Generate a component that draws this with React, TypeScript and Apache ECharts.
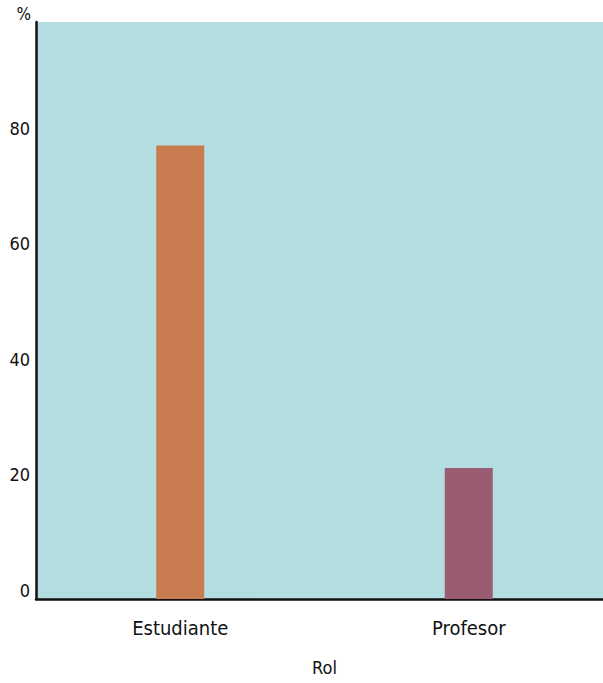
import React, { useEffect, useRef } from "react";
import * as echarts from "echarts";

const categories = ["Estudiante", "Profesor"];
const values = [78.6, 22.7];
const barColors = ["#c97c50", "#9a5c73"];

const FONT = "'DejaVu Sans Condensed', 'Liberation Sans Narrow', sans-serif";

export default function App() {
  const ref = useRef<HTMLDivElement>(null);
  useEffect(() => {
    if (!ref.current) return;
    const chart = echarts.init(ref.current, undefined, { renderer: "svg" });
    chart.setOption({
      animation: false,
      backgroundColor: "#ffffff",
      textStyle: { fontFamily: FONT },
      grid: {
        left: 36,
        top: 22,
        width: 577,
        height: 577,
        show: true,
        backgroundColor: "#b3dde0",
        borderWidth: 0,
        containLabel: false,
        outerBoundsMode: "none",
      },
      xAxis: {
        type: "category",
        data: categories,
        name: "Rol",
        nameLocation: "middle",
        nameGap: 59,
        nameTextStyle: { fontFamily: FONT, fontSize: 18, color: "#111" },
        axisLine: { show: true, lineStyle: { color: "#111", width: 2.5 } },
        axisTick: { show: false },
        axisLabel: { fontFamily: FONT, fontSize: 20, color: "#111", margin: 19 },
        splitLine: { show: false },
      },
      yAxis: {
        type: "value",
        min: 0,
        max: 100,
        interval: 20,
        name: "%",
        nameLocation: "end",
        nameGap: 0,
        nameTextStyle: { fontFamily: FONT, fontSize: 17, color: "#111", align: "right", padding: [0, 5, 0, 0] },
        axisLine: { show: true, lineStyle: { color: "#111", width: 2.5 } },
        axisTick: { show: false },
        axisLabel: {
          fontFamily: FONT,
          fontSize: 18,
          color: "#111",
          margin: 6,
          verticalAlign: "bottom",
          formatter: (v: number) => (v === 100 ? "" : String(v)),
        },
        splitLine: { show: false },
      },
      series: [
        {
          type: "bar",
          data: values.map((v, i) => ({ value: v, itemStyle: { color: barColors[i] } })),
          barWidth: 48,
        },
      ],
    });
    return () => chart.dispose();
  }, []);
  return (
    <div
      ref={ref}
      style={{ width: 603, height: 683, position: "absolute", left: 0, top: 0, overflow: "hidden" }}
    />
  );
}
